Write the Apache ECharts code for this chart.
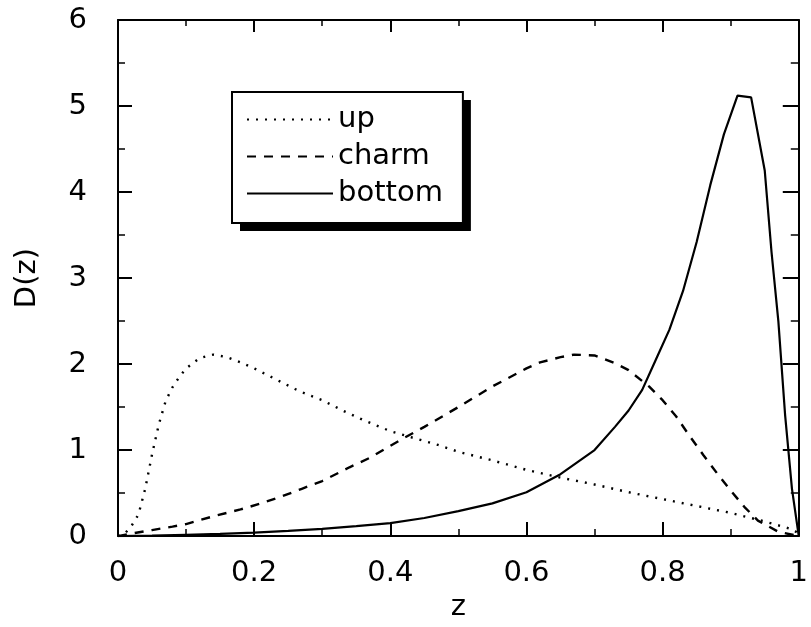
<!DOCTYPE html>
<html>
<head>
<meta charset="utf-8">
<script src="https://cdn.jsdelivr.net/npm/echarts@6/dist/echarts.min.js"></script>
<style>
html,body{margin:0;padding:0;background:#fff;}
#chart{width:811px;height:627px;}
</style>
</head>
<body>
<div id="chart"></div>
<script>
// up quark fragmentation (dotted)
var zUp = [0, 0.01, 0.02, 0.03, 0.04, 0.05, 0.06, 0.07, 0.08, 0.09, 0.10, 0.12, 0.14, 0.16, 0.18, 0.20, 0.22, 0.24, 0.26, 0.28, 0.30, 0.33, 0.36, 0.40, 0.43, 0.47, 0.50, 0.55, 0.60, 0.65, 0.70, 0.75, 0.80, 0.85, 0.90, 0.95, 0.99, 1.00];
var dUp = [0, 0.03, 0.12, 0.25, 0.55, 0.95, 1.30, 1.57, 1.73, 1.85, 1.95, 2.07, 2.11, 2.08, 2.02, 1.95, 1.87, 1.79, 1.71, 1.64, 1.58, 1.46, 1.35, 1.22, 1.15, 1.06, 0.98, 0.88, 0.77, 0.68, 0.60, 0.51, 0.43, 0.35, 0.27, 0.17, 0.08, 0.03];
// charm (dashed)
var zCharm = [0, 0.02, 0.05, 0.08, 0.10, 0.14, 0.18, 0.21, 0.24, 0.27, 0.30, 0.34, 0.37, 0.40, 0.42, 0.45, 0.50, 0.55, 0.60, 0.62, 0.65, 0.67, 0.70, 0.73, 0.75, 0.78, 0.80, 0.82, 0.84, 0.86, 0.88, 0.90, 0.92, 0.94, 0.97, 1.00];
var dCharm = [0, 0.03, 0.07, 0.11, 0.14, 0.23, 0.31, 0.38, 0.46, 0.55, 0.64, 0.80, 0.91, 1.05, 1.14, 1.27, 1.50, 1.74, 1.95, 2.02, 2.08, 2.11, 2.10, 2.01, 1.93, 1.74, 1.58, 1.39, 1.16, 0.94, 0.73, 0.53, 0.34, 0.18, 0.05, 0];
// bottom (solid)
var zBottom = [0, 0.05, 0.10, 0.15, 0.20, 0.25, 0.30, 0.35, 0.40, 0.45, 0.50, 0.55, 0.60, 0.65, 0.70, 0.73, 0.75, 0.77, 0.79, 0.81, 0.83, 0.85, 0.87, 0.89, 0.91, 0.93, 0.95, 0.96, 0.97, 0.98, 0.99, 1.00];
var dBottom = [0, 0.005, 0.015, 0.025, 0.04, 0.06, 0.085, 0.115, 0.15, 0.21, 0.29, 0.38, 0.51, 0.72, 1.00, 1.27, 1.46, 1.70, 2.05, 2.40, 2.85, 3.42, 4.08, 4.67, 5.12, 5.10, 4.25, 3.30, 2.50, 1.40, 0.55, 0];

var seriesNames = ['up', 'charm', 'bottom'];
var xTicks = [0, 0.2, 0.4, 0.6, 0.8, 1];
var yTicks = [0, 1, 2, 3, 4, 5, 6];

function pairs(xs, ys) { return xs.map(function (x, i) { return [x, ys[i]]; }); }

var FONT = 'DejaVu Sans';
var FS = 29;
var chart = echarts.init(document.getElementById('chart'), null, {renderer: 'canvas'});

var tickCommon = {show: true, inside: true, length: 14, lineStyle: {color: '#000', width: 2}};
var minorCommon = {show: true, splitNumber: 2, length: 7, lineStyle: {color: '#000', width: 1.5}};
var lineCommon = {show: true, onZero: false, lineStyle: {color: '#000', width: 2}};

function legendCfg(withBorder) {
  return {
    data: seriesNames,
    orient: 'vertical',
    left: 232,
    top: 92,
    padding: [13, 20, 15, 14],
    itemWidth: 86,
    itemHeight: 14,
    itemGap: 8,
    selectedMode: false,
    backgroundColor: '#fff',
    borderColor: withBorder ? '#000' : 'transparent',
    borderWidth: withBorder ? 2 : 0,
    shadowColor: withBorder ? 'transparent' : '#000',
    shadowBlur: 0,
    shadowOffsetX: withBorder ? 0 : 8,
    shadowOffsetY: withBorder ? 0 : 8,
    z: withBorder ? 6 : 5,
    itemStyle: {opacity: 0},
    textStyle: {fontFamily: FONT, fontSize: FS, color: '#000'}
  };
}

chart.setOption({
  backgroundColor: '#fff',
  animation: false,
  grid: {left: 118, right: 3, top: 20, bottom: 87, containLabel: false},
  legend: [legendCfg(false), legendCfg(true)],
  xAxis: [{
    type: 'value', min: xTicks[0], max: xTicks[xTicks.length - 1], interval: 0.2,
    name: 'z', nameLocation: 'middle', nameGap: 50,
    nameTextStyle: {fontFamily: FONT, fontSize: FS, color: '#000'},
    axisLine: lineCommon, axisTick: tickCommon, minorTick: minorCommon,
    axisLabel: {fontFamily: FONT, fontSize: FS, color: '#000', margin: 23,
      formatter: function (v) { return String(+v.toFixed(1)); }},
    splitLine: {show: false}
  }, {
    type: 'value', position: 'top', min: xTicks[0], max: xTicks[xTicks.length - 1], interval: 0.2,
    axisLine: lineCommon, axisTick: {show: true, inside: true, length: 12, lineStyle: {color: '#000', width: 2}},
    minorTick: {show: true, splitNumber: 2, length: 6, lineStyle: {color: '#000', width: 1.5}},
    axisLabel: {show: false}, splitLine: {show: false}
  }],
  yAxis: [{
    type: 'value', min: yTicks[0], max: yTicks[yTicks.length - 1], interval: 1,
    name: 'D(z)', nameLocation: 'middle', nameGap: 76, nameRotate: 90,
    nameTextStyle: {fontFamily: FONT, fontSize: FS, color: '#000'},
    axisLine: lineCommon, axisTick: tickCommon, minorTick: minorCommon,
    axisLabel: {fontFamily: FONT, fontSize: FS, color: '#000', margin: 31},
    splitLine: {show: false}
  }, {
    type: 'value', position: 'right', min: yTicks[0], max: yTicks[yTicks.length - 1], interval: 1,
    axisLine: lineCommon, axisTick: {show: true, inside: true, length: 16, lineStyle: {color: '#000', width: 2}},
    minorTick: {show: true, splitNumber: 2, length: 8, lineStyle: {color: '#000', width: 1.5}},
    axisLabel: {show: false}, splitLine: {show: false}
  }],
  series: [{
    name: seriesNames[0], type: 'line', xAxisIndex: 0, yAxisIndex: 0,
    data: pairs(zUp, dUp), showSymbol: false, symbol: 'none', smooth: false,
    lineStyle: {color: '#000', width: 2.4, type: [2, 7]},
    itemStyle: {color: '#000'}
  }, {
    name: seriesNames[1], type: 'line', xAxisIndex: 0, yAxisIndex: 0,
    data: pairs(zCharm, dCharm), showSymbol: false, symbol: 'none', smooth: false,
    lineStyle: {color: '#000', width: 2.4, type: [9, 8]},
    itemStyle: {color: '#000'}
  }, {
    name: seriesNames[2], type: 'line', xAxisIndex: 0, yAxisIndex: 0,
    data: pairs(zBottom, dBottom), showSymbol: false, symbol: 'none', smooth: false,
    lineStyle: {color: '#000', width: 2.2, type: 'solid'},
    itemStyle: {color: '#000'}
  }]
});
</script>
</body>
</html>
